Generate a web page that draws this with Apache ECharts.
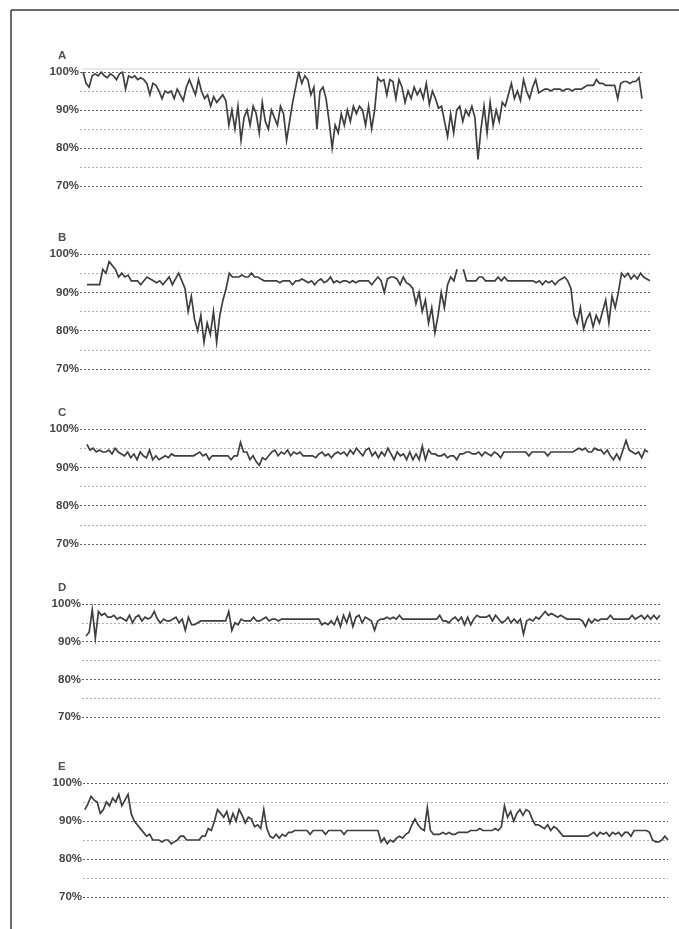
<!DOCTYPE html>
<html>
<head>
<meta charset="utf-8">
<title>SpO2 traces A–E</title>
<script src="https://cdn.jsdelivr.net/npm/echarts@6/dist/echarts.min.js"></script>
<style>
  html, body { margin: 0; padding: 0; background: #ffffff; }
  #chart { width: 679px; height: 929px; }
</style>
</head>
<body>
<div id="chart"></div>
<script>
// Saturation axis ticks (percent)
const yTicks = [70, 75, 80, 85, 90, 95, 100];
const panelNames = ['A', 'B', 'C', 'D', 'E'];

// Overnight SpO2 recordings, one sample per step
const traceA = [
  100, 97, 96, 99, 99.5, 99, 100, 99, 98.5, 99.5, 99, 98, 99.5, 100,
  95.5,
  99, 98.5, 99, 98, 98.5, 98,
  97, 94, 97, 96.5,
  95, 93, 95, 94.5, 95, 93, 95.5, 94,
  92.5, 96, 98, 96, 94, 98, 95, 93,
  94, 91, 93.5, 92, 93, 94, 92.5,
  86, 90, 85, 91, 82, 88, 90, 86, 91, 89, 84, 92, 87, 85, 90, 88, 86, 91, 89, 82, 87,
  92, 96, 100, 97, 99, 98, 94,
  96, 85, 95, 96, 93,
  87, 80, 86, 84,
  89, 86, 90, 87, 91, 89, 91, 90,
  86, 91, 85, 90,
  98.5,
  97.5, 98, 94, 98, 97.5, 93, 98, 96,
  92, 95, 93, 96, 94, 95.5, 93, 97, 91.5, 95,
  93, 90.5, 91, 87, 83,
  89, 84, 90, 91, 87, 90, 88.5, 91, 88,
  77, 85,
  91, 84, 92, 86, 90, 87, 92,
  91, 94, 97, 93, 95, 92.5, 98, 95, 93, 96, 98, 94.5,
  95, 95.5, 95.5, 95, 95.5, 95.5, 95.5, 95, 95.5, 95.5, 95, 95.5, 95.5, 95.5, 96, 96.5, 96.5,
  96.5, 98, 97, 97, 96.5, 96.5, 96.5, 96.5, 93,
  97, 97.5, 97.5, 97, 97.5, 97.5, 98.5,
  93
];

const traceB = [
  92, 92, 92, 92, 92,
  96, 95, 98,
  97, 96, 94, 95, 94, 94.5,
  93, 93, 93, 92, 93, 94, 93.5, 93, 92.5, 93, 92, 93, 94, 92, 93.5, 95, 93,
  91, 85, 89, 83, 80, 84, 77, 82, 79, 85, 77, 84, 88, 91,
  95, 94, 94, 94, 94.5, 94, 94, 95, 94, 94, 93.5,
  93, 93, 93, 93, 93, 92.5, 93, 93, 93, 92, 93, 93, 93.5, 93, 92.5, 93, 92, 93, 93.5, 92.5, 93, 94, 92.5, 93, 92.5, 93,
  93, 92.5, 93, 92.5, 93, 93, 93, 93, 92, 93, 94, 93, 90, 93.5,
  94, 94, 93.5, 92, 94, 92.5, 92,
  91, 87, 90, 85, 88, 82, 86, 79.5, 84, 90,
  86, 92, 94, 93, 96,
  null,
  96, 93, 93, 93, 93, 94, 94, 93, 93, 93, 93, 94, 93, 94, 93, 93, 93, 93, 93, 93, 93, 93, 93, 92.5, 93, 92, 93, 92.5, 93, 92, 93, 93.5, 94, 93,
  91, 84, 82, 86, 80.5, 83, 84.5, 81, 84, 82, 85, 88, 82, 89, 86, 90,
  95, 94, 95, 93.5, 94.5, 93.5, 95, 94, 93.5, 93
];

const traceC = [
  96, 94.5, 95, 94, 94.5, 94, 94, 94.5, 93.5, 95, 94,
  93.5, 93, 94, 92.5, 93.5, 92, 94, 93, 92.5, 94.5, 92, 93, 92, 92.5, 93, 92.5, 93.5,
  93, 93, 93, 93, 93, 93, 93,
  93.5, 94, 93, 93.5, 92, 93, 93, 93, 93, 93, 93, 92, 93, 93,
  96.5, 94,
  94, 92, 93, 91.5, 90.5, 92.5, 92, 93,
  94, 94.5, 93, 94, 93.5, 94.5, 93, 94, 93.5, 94, 93, 93, 93, 93, 92.5, 93.5, 94, 93, 93.5, 92.5, 93.5, 94, 93.5, 94, 93, 94.5, 93.5, 95, 94,
  93, 94.5, 95, 93, 94, 92.5, 94, 93, 95, 93.5, 92, 94, 93, 93.5, 92, 94, 92, 93.5, 92, 95.5,
  92, 94.5, 93.5, 93.5, 93, 93, 93.5, 92.5, 93, 93, 92, 93.5, 93.5, 94, 94, 93.5, 93.5, 94, 93, 94, 93.5, 93, 94, 93.5, 92.5, 94, 94,
  94, 94, 94, 94, 94, 94, 93, 94, 94, 94, 94, 94, 93, 94, 94, 94, 94, 94, 94, 94, 94,
  94.5, 95, 94.5, 95, 94, 94, 95, 94.5, 94.5, 93.5, 94.5,
  93, 92, 93.5, 92, 94.5, 97,
  94.5, 94, 93.5, 94, 92.5, 94.5, 94
];

const traceD = [
  91.5, 92.5, 98.5, 91, 98,
  97, 97.5, 96.5, 96.5, 97, 96, 96.5, 96, 95.5, 97, 95, 96.5, 97, 95.5, 96.5, 96, 96.5, 98, 96,
  95, 96, 95.5, 95.5, 96, 96.5, 95, 96, 93, 96.5,
  94.5, 94.5, 95,
  95.5, 95.5, 95.5, 95.5, 95.5, 95.5, 95.5, 95.5, 95.5,
  98, 93, 95,
  94.5, 96, 95.5, 95.5, 95.5, 96.5, 95.5, 95.5, 96, 96.5, 95.5, 96, 96, 95.5, 96, 96, 96, 96, 96, 96, 96, 96, 96, 96, 96, 96, 96,
  94.5, 95, 94.5, 95.5, 94.5, 96.5, 94, 97, 95, 97.5, 94, 96.5, 97, 95, 96.5, 96, 95.5,
  93,
  95.5, 96, 96, 96.5, 96, 96.5, 96, 97, 96, 96, 96, 96, 96, 96, 96, 96, 96, 96, 96, 96,
  97, 95.5, 95.5, 95, 96, 96.5, 95.5, 96.5, 94.5, 96.5, 94.5, 96, 97, 96.5, 96.5, 96.5, 97, 95.5, 97, 96,
  95, 95.5, 96.5, 95, 96, 95, 96, 92, 95.5,
  96, 95.5, 96.5, 96, 97, 98, 97, 97.5, 97, 96.5, 97, 96.5, 96,
  96, 96, 96, 96, 95.5, 94,
  96, 95, 96, 95.5, 96, 96, 96, 97, 96, 96, 96, 96, 96, 96, 97, 96, 96.5, 97, 96, 97, 96, 97, 96, 97
];

const traceE = [
  93, 94.5, 96.5, 95.5, 95, 92, 93, 95, 94, 96, 95, 97, 94, 95.5, 97,
  92, 90, 89, 88, 87, 86, 86.5,
  85, 85, 85, 84.5, 85, 85, 84, 84.5, 85, 86, 86, 85, 85, 85, 85, 85, 86,
  86, 88, 87.5, 90,
  93, 92, 91, 92.5, 89.5, 92, 90, 93, 91.5, 89.5, 91, 90.5, 88.5, 89, 88, 93,
  88, 86, 85.5, 86.5, 85.5, 86.5, 86, 87,
  87, 87.5, 87.5, 87.5, 87.5, 87.5, 86.5, 87.5, 87.5, 87.5, 87.5, 86.5, 87.5, 87.5, 87.5, 87.5, 87.5, 86.5, 87.5, 87.5, 87.5, 87.5, 87.5, 87.5, 87.5, 87.5, 87.5, 87.5, 87.5,
  84.5, 85.5, 84, 85, 84.5, 85.5, 86, 85.5, 86.5, 87,
  89, 90.5, 89, 88, 87.5, 93.5,
  87.5, 86.5, 86.5, 86.5, 87, 86.5, 87, 86.5, 86.5, 87, 87, 87, 87,
  87.5, 87.5, 87.5, 88, 87.5, 87.5, 87.5, 87.5, 88, 87.5, 88.5,
  94, 91, 92.5, 90, 92, 93, 91.5, 93, 92.5, 90.5,
  89, 89, 88.5, 88, 89, 87.5, 88.5, 88, 87,
  86, 86, 86, 86, 86, 86, 86, 86, 86,
  86.5, 87, 86, 87, 86.5, 87, 86, 87, 86.5, 87, 86, 87, 87, 86, 87.5, 87.5, 87.5, 87.5, 87.5, 87,
  85, 84.5, 84.5, 85, 86, 85
];

const traces = [traceA, traceB, traceC, traceD, traceE];

// Panel placement on the page (pixels) and the lead-in before the first sample
const panels = [
  { left: 80, width: 562, top: 72,  height: 114, lead: 1 },
  { left: 80, width: 570, top: 254, height: 115, lead: 2.2 },
  { left: 80, width: 568, top: 429, height: 115, lead: 2.2 },
  { left: 82, width: 578, top: 604, height: 113, lead: 1.3 },
  { left: 83, width: 585, top: 783, height: 114, lead: 0.6 }
];

const textColor = '#444444';
const traceColor = '#3f3f3f';

const grids = [], xAxes = [], yAxes = [], series = [], titles = [];

panels.forEach((p, i) => {
  const data = traces[i];
  grids.push({ left: p.left, top: p.top, width: p.width, height: p.height, containLabel: false });
  xAxes.push({
    type: 'value', gridIndex: i,
    min: -p.lead, max: data.length - 1,
    show: false
  });
  yAxes.push({
    type: 'value', gridIndex: i,
    min: yTicks[0], max: yTicks[yTicks.length - 1], interval: 5,
    axisLine: { show: false }, axisTick: { show: false },
    axisLabel: {
      margin: 1,
      color: textColor,
      fontFamily: 'Liberation Sans, Arial, sans-serif',
      fontWeight: 'bold',
      fontSize: 11.5,
      padding: [6, 0, 0, 0],
      formatter: v => (v % 10 === 0 ? v + '%' : '')
    },
    splitLine: {
      show: true,
      lineStyle: { type: [2, 2], width: 1, color: ['#5f5f5f', '#b0b0b0'] }
    }
  });
  series.push({
    type: 'line', xAxisIndex: i, yAxisIndex: i,
    data: data.map((v, k) => [k, v]),
    showSymbol: false, symbol: 'none',
    connectNulls: false,
    lineStyle: { color: traceColor, width: 1.7, join: 'miter' },
    animation: false,
    silent: true
  });
  titles.push({
    text: panelNames[i],
    left: 53, top: p.top - 27,
    textStyle: { color: '#505050', fontSize: 11.5, fontWeight: 'bold', fontFamily: 'Liberation Sans, Arial, sans-serif' }
  });
});

const chart = echarts.init(document.getElementById('chart'), null, { renderer: 'canvas' });
chart.setOption({
  backgroundColor: '#ffffff',
  animation: false,
  title: titles,
  grid: grids,
  xAxis: xAxes,
  yAxis: yAxes,
  series: series,
  graphic: [
    // page frame (top and left edges)
    { type: 'line', shape: { x1: 11, y1: 10, x2: 679, y2: 10 }, style: { stroke: '#3a3a3a', lineWidth: 1.5 } },
    { type: 'line', shape: { x1: 11, y1: 10, x2: 11, y2: 929 }, style: { stroke: '#3a3a3a', lineWidth: 1.5 } },
    // faint rule above panel A
    { type: 'line', shape: { x1: 82, y1: 69, x2: 600, y2: 69 }, style: { stroke: '#d0d0d0', lineWidth: 1 } }
  ]
});
</script>
</body>
</html>
